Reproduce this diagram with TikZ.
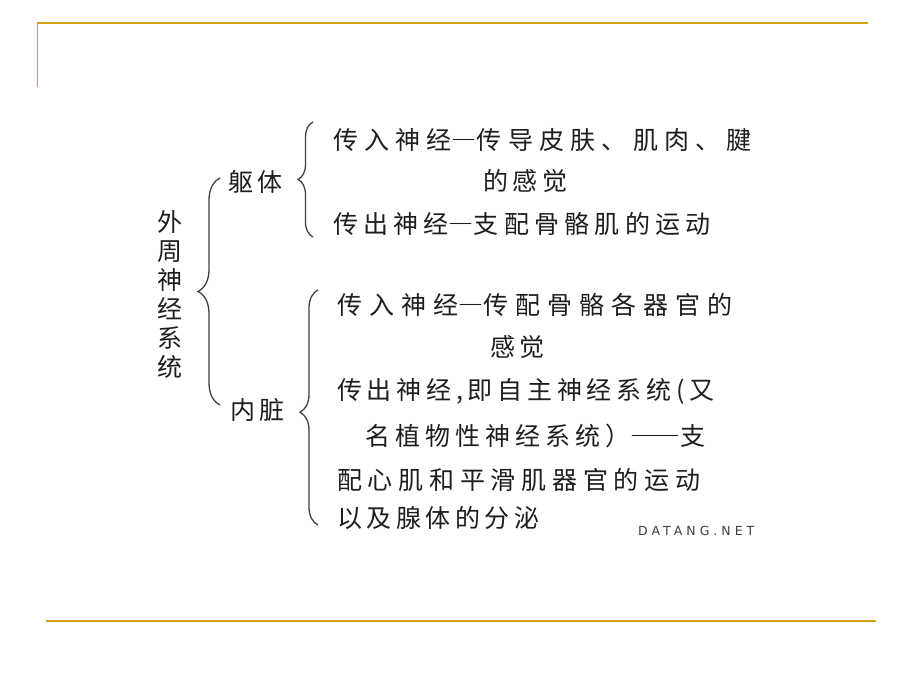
\documentclass[tikz,border=0pt]{standalone}
\usepackage{fontspec}
\newfontfamily\cjk{Noto Sans CJK SC}
\newfontfamily\markfont[LetterSpace=32]{DejaVu Sans}
\usetikzlibrary{decorations.pathreplacing}
\definecolor{rulegold}{RGB}{212,160,20}
\definecolor{ink}{RGB}{30,30,30}
\newcommand{\fw}[1]{{\addfontfeature{RawFeature=+fwid}#1}}

\tikzset{
  textline/.style={anchor=west, inner sep=0pt, text=ink,
    font=\cjk\fontsize{25}{29}\selectfont\addfontfeature{LetterSpace=#1}},
  textline/.default=18,
  curly/.style={draw=ink!85, line width=1.3pt, decorate, decoration={brace, amplitude=#1}},
  curly/.default=15
}

\begin{document}
\begin{tikzpicture}[x=1pt,y=-1pt]
      \useasboundingbox (0,0) rectangle (920,690);
      % slide rules
      \draw[rulegold, line width=2pt] (37,23) -- (868,23);
      \draw[rulegold, line width=1pt] (37,23) -- (37,87);
      \draw[rulegold, line width=2pt] (46,620.5) -- (876,620.5);
      % left labels
      \node[textline, anchor=center, align=center] (root) at (170,294) {外\\周\\神\\经\\系\\统};
      \node[textline] (soma) at (228,182) {躯体};
      \node[textline] (visc) at (230,410) {内脏};
      % braces
      \coordinate (outertop) at (220,178);
      \coordinate (outerbot) at (220,405);
      \coordinate (somatop) at (313,122);
      \coordinate (somabot) at (313,237);
      \coordinate (visctop) at (318,290);
      \coordinate (viscbot) at (318,525);
      \draw[curly=22] (outerbot) -- (outertop);
      \draw[curly=15] (somabot) -- (somatop);
      \draw[curly=18, decoration={aspect=0.48}] (viscbot) -- (visctop);
      % somatic nerves
      \node[textline=25] (sin) at (333,140) {传入神经\fw{—}传导皮肤、肌肉、腱};
      \node[textline] (sinb) at (483,181) {的感觉};
      \node[textline=21] (sout) at (333,224) {传出神经\fw{—}支配骨骼肌的运动};
      % visceral nerves
      \node[textline=28] (vin) at (337,305) {传入神经\fw{—}传配骨骼各器官的};
      \node[textline] (vinb) at (490,347) {感觉};
      \node[textline=19] (vout) at (337,391) {传出神经,即自主神经系统(又};
      \node[textline=20] (voutb) at (365,436) {名植物性神经系统）\fw{——}支};
      \node[textline=23] (voutc) at (337,480) {配心肌和平滑肌器官的运动};
      \node[textline] (voutd) at (337,518) {以及腺体的分泌};
      % watermark
      \node[anchor=west, inner sep=0pt, text=black!75, font=\markfont\fontsize{12.5}{13}\selectfont] (mark) at (638,531) {DATANG.NET};
\end{tikzpicture}
\end{document}
